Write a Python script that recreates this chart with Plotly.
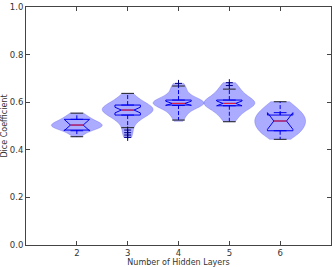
import plotly.graph_objects as go

# ---- data ----
layers = [2, 3, 4, 5, 6]
samples = {
    2: [0.455, 0.468, 0.476, 0.482, 0.486, 0.489, 0.492, 0.495, 0.497, 0.499, 0.501, 0.503,
        0.505, 0.507, 0.509, 0.512, 0.515, 0.518, 0.522, 0.526, 0.530, 0.535, 0.541, 0.548, 0.554],
    3: [0.452, 0.472, 0.493, 0.512, 0.525, 0.534, 0.541, 0.546, 0.551, 0.556, 0.560,
        0.564, 0.567, 0.570, 0.573, 0.577, 0.581, 0.585, 0.588, 0.594, 0.601, 0.610, 0.621, 0.637],
    4: [0.520, 0.535, 0.548, 0.558, 0.567, 0.574, 0.580, 0.585, 0.588, 0.591, 0.593, 0.595,
        0.597, 0.600, 0.603, 0.606, 0.609, 0.613, 0.618, 0.625, 0.634, 0.645, 0.657, 0.668, 0.679],
    5: [0.518, 0.532, 0.546, 0.557, 0.566, 0.574, 0.580, 0.585, 0.589, 0.592, 0.595, 0.598,
        0.601, 0.605, 0.609, 0.614, 0.620, 0.628, 0.638, 0.647, 0.655, 0.670, 0.682],
    6: [0.444, 0.456, 0.466, 0.474, 0.480, 0.488, 0.495, 0.502, 0.509, 0.515, 0.521, 0.527,
        0.533, 0.539, 0.546, 0.553, 0.560, 0.568, 0.578, 0.590, 0.602],
}
q1 = [0.483, 0.546, 0.588, 0.585, 0.480]
median = [0.504, 0.567, 0.595, 0.595, 0.521]
q3 = [0.528, 0.588, 0.609, 0.609, 0.546]
whisker_low = [0.455, 0.493, 0.525, 0.518, 0.444]
whisker_high = [0.554, 0.637, 0.668, 0.655, 0.602]
notch = [0.024, 0.012, 0.009, 0.010, 0.035]
fliers = {2: [], 3: [0.452, 0.462, 0.472, 0.483], 4: [0.679], 5: [0.670, 0.682], 6: []}

x_ticks = [2, 3, 4, 5, 6]
y_ticks = [0.0, 0.2, 0.4, 0.6, 0.8, 1.0]

# ---- styles ----
VIOLIN_W = 1.0
BOX_W = 0.5
CAP_W = 0.25
fill = "rgba(0,0,255,0.33)"

fig = go.Figure()

for k in layers:
    fig.add_trace(go.Violin(
        x=[k] * len(samples[k]), y=samples[k], width=VIOLIN_W,
        spanmode="hard", scalemode="width", points=False,
        fillcolor=fill, line=dict(color="rgba(80,80,230,0.5)", width=0.6),
        box_visible=False, meanline_visible=False, hoverinfo="skip",
        showlegend=False))

# notched boxes (no built-in whiskers: fences = quartiles)
fig.add_trace(go.Box(
    x=layers, q1=q1, median=median, q3=q3, lowerfence=q1, upperfence=q3,
    notchspan=notch, notched=True, notchwidth=0.25, width=BOX_W,
    fillcolor="rgba(0,0,0,0)", line=dict(color="#0000ee", width=1),
    boxpoints=False, showlegend=False, hoverinfo="skip"))

# whiskers (dashed blue)
wx, wy = [], []
for i, k in enumerate(layers):
    wx += [k, k, None, k, k, None]
    wy += [q3[i], whisker_high[i], None, q1[i], whisker_low[i], None]
fig.add_trace(go.Scatter(x=wx, y=wy, mode="lines",
                         line=dict(color="#0000ee", width=1, dash="4px,2px"),
                         showlegend=False, hoverinfo="skip"))

# caps (black)
cx, cy = [], []
for i, k in enumerate(layers):
    for v in (whisker_low[i], whisker_high[i]):
        cx += [k - CAP_W / 2, k + CAP_W / 2, None]
        cy += [v, v, None]
fig.add_trace(go.Scatter(x=cx, y=cy, mode="lines", line=dict(color="#222", width=1),
                         showlegend=False, hoverinfo="skip"))

# medians (red)
mx, my = [], []
for i, k in enumerate(layers):
    mx += [k - BOX_W / 4, k + BOX_W / 4, None]
    my += [median[i], median[i], None]
fig.add_trace(go.Scatter(x=mx, y=my, mode="lines", line=dict(color="#ff2020", width=1),
                         showlegend=False, hoverinfo="skip"))

# fliers
fx, fy = [], []
for k in layers:
    fx += [k] * len(fliers[k])
    fy += fliers[k]
fig.add_trace(go.Scatter(x=fx, y=fy, mode="markers",
                         marker=dict(symbol="cross-thin-open", size=5, color="#000088",
                                     line=dict(color="#000088", width=1)),
                         showlegend=False, hoverinfo="skip"))

axis_common = dict(showline=True, linecolor="#444", linewidth=1, mirror="ticks",
                   ticks="inside", ticklen=4, tickcolor="#444", showgrid=False,
                   zeroline=False, automargin=False,
                   tickfont=dict(size=8.5, color="#333"))

fig.update_layout(
    width=336, height=267,
    margin=dict(l=26, r=5, t=7, b=22),
    paper_bgcolor="white", plot_bgcolor="white",
    font=dict(family="DejaVu Sans", size=8, color="#333"),
    violinmode="overlay", boxmode="overlay",
    xaxis=dict(range=[1, 7], tickvals=x_ticks, ticktext=[str(t) for t in x_ticks],
               title=dict(text="Number of Hidden Layers", font=dict(size=8), standoff=1),
               **axis_common),
    yaxis=dict(range=[0, 1], tickvals=y_ticks, tickformat=".1f",
               title=dict(text="Dice Coefficient", font=dict(size=8), standoff=2),
               **axis_common),
)

fig.write_html("out.html")
